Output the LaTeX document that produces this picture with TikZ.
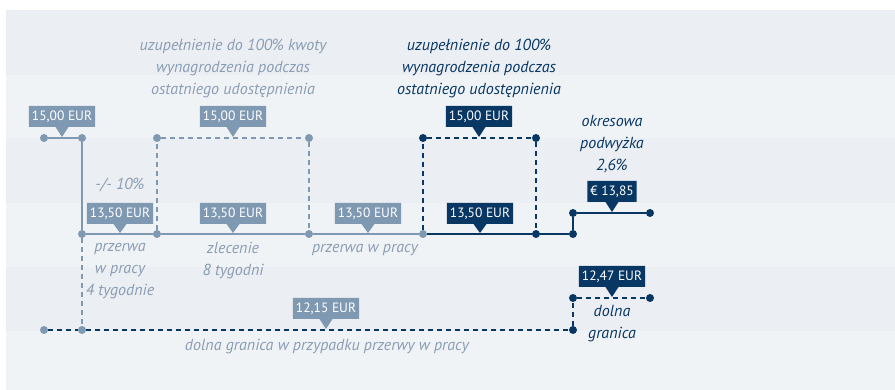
\documentclass[tikz,border=0pt]{standalone}
\usepackage{fontspec}
\setmainfont{PT Sans}
\usetikzlibrary{shapes.callouts}
\definecolor{gb}{RGB}{128,153,178}
\definecolor{gt}{RGB}{138,157,180}
\definecolor{nv}{RGB}{8,55,100}
\definecolor{bdark}{RGB}{235,238,242}
\definecolor{blight}{RGB}{240,243,246}
\begin{document}
\begin{tikzpicture}[x=1pt,y=-1pt,
 dot/.style={circle,fill=#1,inner sep=0pt,minimum size=8pt},
 ln/.style={line width=1.6pt,draw=#1},
 dsh/.style={line width=1.4pt,draw=#1,dash pattern=on 5pt off 4pt},
 tag/.style={rectangle callout, fill=#1, text=white, font=\fontsize{13.5}{15}\selectfont, inner xsep=3pt, inner ysep=0pt, minimum height=21pt, callout pointer width=13pt},
 it/.style={font=\fontsize{16}{22}\selectfont\itshape, align=center, text=#1}
]
\useasboundingbox (0,0) rectangle (895,390);
\fill[white] (0,0) rectangle (895,390);
\fill[bdark] (6,10) rectangle (895,75);
\fill[blight] (6,75) rectangle (895,138);
\fill[bdark] (6,138) rectangle (895,203);
\fill[blight] (6,203) rectangle (895,267);
\fill[bdark] (6,267) rectangle (895,331);
\fill[blight] (6,331) rectangle (895,390);

% dots
\node[dot=gb] (g1) at (44,138) {};
\node[dot=gb] (g2) at (82,138) {};
\node[dot=gb] (g3) at (82,234) {};
\node[dot=gb] (g4) at (82,330) {};
\node[dot=gb] (g5) at (157,234) {};
\node[dot=gb] (g6) at (157,138) {};
\node[dot=gb] (g7) at (309,138) {};
\node[dot=gb] (g8) at (309,234) {};
\node[dot=gb] (g9) at (423,234) {};
\node[dot=gb] (b1) at (44,330) {};
\node[dot=nv] (n1) at (423,138) {};
\node[dot=nv] (n2) at (536,138) {};
\node[dot=nv] (n3) at (536,234) {};
\node[dot=nv] (n4) at (573,234) {};
\node[dot=nv] (n5) at (573,213) {};
\node[dot=nv] (n6) at (650,213) {};
\node[dot=nv] (n7) at (573,330) {};
\node[dot=nv] (n8) at (573,298) {};
\node[dot=nv] (n9) at (650,298) {};

% connectors
\draw[ln=gb] (g1) -- (g2) -- (g3);
\draw[ln=gb] (g3) -- (g5) -- (g8) -- (g9);
\draw[dsh=gb] (g3) -- (g4);
\draw[dsh=gb] (g5) -- (g6) -- (g7) -- (g8);
\draw[dsh=nv] (g9) -- (n1) -- (n2) -- (n3);
\draw[ln=nv] (g9) -- (n3) -- (n4) -- (n5) -- (n6);
\draw[dsh=nv] (b1) -- (g4) -- (n7) -- (n8) -- (n9);

% tags
\node[tag=gb, callout absolute pointer={(62,137)}] (t1) at (62,116.5) {15,00 EUR};
\node[tag=gb, callout absolute pointer={(233,137)}] (t2) at (233,116.5) {15,00 EUR};
\node[tag=nv, callout absolute pointer={(479,137)}] (t3) at (479,116.5) {15,00 EUR};
\node[tag=gb, callout absolute pointer={(120,233)}] (t4) at (120,213.5) {13,50 EUR};
\node[tag=gb, callout absolute pointer={(233,233)}] (t5) at (233,213.5) {13,50 EUR};
\node[tag=gb, callout absolute pointer={(368,233)}] (t6) at (368,213.5) {13,50 EUR};
\node[tag=nv, callout absolute pointer={(480,233)}] (t7) at (480,213.5) {13,50 EUR};
\node[tag=nv, callout absolute pointer={(612,212)}] (t8) at (612,191.5) {€ 13,85};
\node[tag=nv, callout absolute pointer={(612,297)}] (t9) at (612,276.5) {12,47 EUR};
\node[tag=gb, callout absolute pointer={(326,329)}] (t10) at (326,308.5) {12,15 EUR};

% texts
\node[it=gt] (h1) at (233,68) {uzupełnienie do 100\% kwoty\\wynagrodzenia podczas\\ostatniego udostępnienia};
\node[it=nv] (h2) at (479,68) {uzupełnienie do 100\%\\wynagrodzenia podczas\\ostatniego udostępnienia};
\node[it=nv] (h3) at (612,144) {okresowa\\podwyżka\\2,6\%};
\node[it=gt] (p10) at (120,185) {-/- 10\%};
\node[it=gt] (l1) at (120,271) {przerwa\\w pracy\\4 tygodnie};
\node[it=gt] (l2) at (233,260.5) {zlecenie\\8 tygodni};
\node[it=gt] (l3) at (365,250) {przerwa w pracy};
\node[it=gt] (l4) at (327,347) {dolna granica w przypadku przerwy w pracy};
\node[it=nv] (l5) at (612,324) {dolna\\granica};
\end{tikzpicture}
\end{document}
